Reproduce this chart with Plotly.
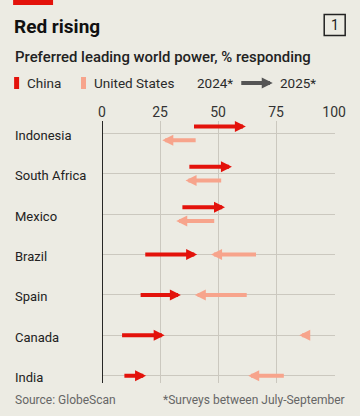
import plotly.graph_objects as go

countries = ["Indonesia", "South Africa", "Mexico", "Brazil", "Spain", "Canada", "India"]
china_2024 = [39, 37, 34, 18, 16, 8, 9]
china_2025 = [62, 56, 53, 41, 34, 27, 19]
us_2024 = [41, 52, 49, 67, 63, 88, 79]
us_2025 = [26, 36, 32, 47, 40, 85, 63]
x_ticks = [0, 25, 50, 75, 100]

BG = "#ecebe3"
RED = "#e3120b"
SALMON = "#f7a48c"
GRID = "#cbc8bf"
FONT = "Roboto"

W, H = 360, 416
L, R, T, B = 102, 24.7, 121, 33
PW, PH = W - L - R, H - T - B

def px(x):
    return (x - L) / PW

def py(y):
    return (H - B - y) / PH

fig = go.Figure()
fig.add_trace(go.Scatter(x=[0, 100], y=[0, 6], mode="markers", marker=dict(opacity=0), hoverinfo="skip", showlegend=False))

annotations = []
for i, c in enumerate(countries):
    lo_c, hi_c = sorted([china_2024[i], china_2025[i]])
    lo_u, hi_u = sorted([us_2024[i], us_2025[i]])
    overlap = not (hi_c < lo_u or hi_u < lo_c)
    off = 0.17 if overlap else 0.0
    for a, b, col, o in [(china_2024[i], china_2025[i], RED, -off), (us_2024[i], us_2025[i], SALMON, off)]:
        annotations.append(dict(x=b, y=i + o, ax=a, ay=i + o, xref="x", yref="y", axref="x", ayref="y",
                                text="", showarrow=True, arrowhead=2, arrowsize=0.55, arrowwidth=4,
                                arrowcolor=col, standoff=0))
    annotations.append(dict(x=px(13), y=i, xref="paper", yref="y", text=c, showarrow=False,
                            xanchor="left", yanchor="middle", yshift=-2,
                            font=dict(family=FONT, size=13, color="#222222")))

# titles
annotations.append(dict(x=px(12), y=py(27), xref="paper", yref="paper", text="<b>Red rising</b>",
                        showarrow=False, xanchor="left", yanchor="middle",
                        font=dict(family=FONT, size=19, color="#111111")))
annotations.append(dict(x=px(13), y=py(57), xref="paper", yref="paper", text="Preferred leading world power, % responding",
                        showarrow=False, xanchor="left", yanchor="middle",
                        font=dict(family=FONT, size=14.9, color="#222222", weight=500)))
annotations.append(dict(x=px(335), y=py(25), xref="paper", yref="paper", text="1",
                        showarrow=False, xanchor="center", yanchor="middle",
                        font=dict(family=FONT, size=14, color="#222222")))
# legend
annotations.append(dict(x=px(25), y=py(83), xref="paper", yref="paper", text="China",
                        showarrow=False, xanchor="left", yanchor="middle",
                        font=dict(family=FONT, size=13.5, color="#2a2a2a")))
annotations.append(dict(x=px(92), y=py(83), xref="paper", yref="paper", text="United States",
                        showarrow=False, xanchor="left", yanchor="middle",
                        font=dict(family=FONT, size=13.5, color="#2a2a2a")))
annotations.append(dict(x=px(195), y=py(83), xref="paper", yref="paper", text="2024*",
                        showarrow=False, xanchor="left", yanchor="middle",
                        font=dict(family=FONT, size=13.5, color="#2a2a2a")))
annotations.append(dict(x=px(278), y=py(83), xref="paper", yref="paper", text="2025*",
                        showarrow=False, xanchor="left", yanchor="middle",
                        font=dict(family=FONT, size=13.5, color="#2a2a2a")))
annotations.append(dict(x=px(273), y=py(83), xref="paper", yref="paper", ax=-33, ay=0, text="",
                        showarrow=True, arrowhead=2, arrowsize=0.55, arrowwidth=4, arrowcolor="#555555", standoff=0))
# footer
annotations.append(dict(x=px(13), y=py(400), xref="paper", yref="paper", text="Source: GlobeScan",
                        showarrow=False, xanchor="left", yanchor="middle",
                        font=dict(family=FONT, size=12, color="#666666")))
annotations.append(dict(x=px(347), y=py(400), xref="paper", yref="paper", text="*Surveys between July-September",
                        showarrow=False, xanchor="right", yanchor="middle",
                        font=dict(family=FONT, size=12, color="#666666")))

shapes = [
    dict(type="rect", xref="paper", yref="paper", x0=px(13), x1=px(53), y0=py(5), y1=py(-2), fillcolor=RED, line_width=0),
    dict(type="rect", xref="paper", yref="paper", x0=px(324.5), x1=px(345.5), y0=py(35.5), y1=py(14.5),
         line=dict(color="#222222", width=1.5), fillcolor="rgba(0,0,0,0)"),
    dict(type="rect", xref="paper", yref="paper", x0=px(14), x1=px(19), y0=py(89), y1=py(77), fillcolor=RED, line_width=0),
    dict(type="rect", xref="paper", yref="paper", x0=px(81), x1=px(86), y0=py(89), y1=py(77), fillcolor=SALMON, line_width=0),
    dict(type="line", xref="x", yref="paper", x0=0, x1=0, y0=0, y1=1, line=dict(color="#111111", width=1.8), layer="above"),
]

fig.update_layout(
    width=W, height=H,
    margin=dict(l=L, r=R, t=T, b=B, autoexpand=False),
    paper_bgcolor=BG, plot_bgcolor=BG,
    showlegend=False,
    xaxis=dict(range=[0, 100.4], side="top", tickvals=x_ticks, ticktext=[str(v) for v in x_ticks],
               showgrid=True, gridcolor=GRID, gridwidth=1.2, zeroline=False, showline=False,
               tickfont=dict(family=FONT, size=14, color="#333333"), ticks="", fixedrange=True),
    yaxis=dict(range=[6.18, -0.305], tickvals=list(range(len(countries))), showticklabels=False,
               showgrid=True, gridcolor=GRID, gridwidth=1.2, zeroline=False, showline=False, ticks="", fixedrange=True),
    annotations=annotations,
    shapes=shapes,
)

fig.write_html("out.html", config={"displayModeBar": False},
               post_script="document.body.style.margin='0';document.body.style.background='%s';" % BG)
